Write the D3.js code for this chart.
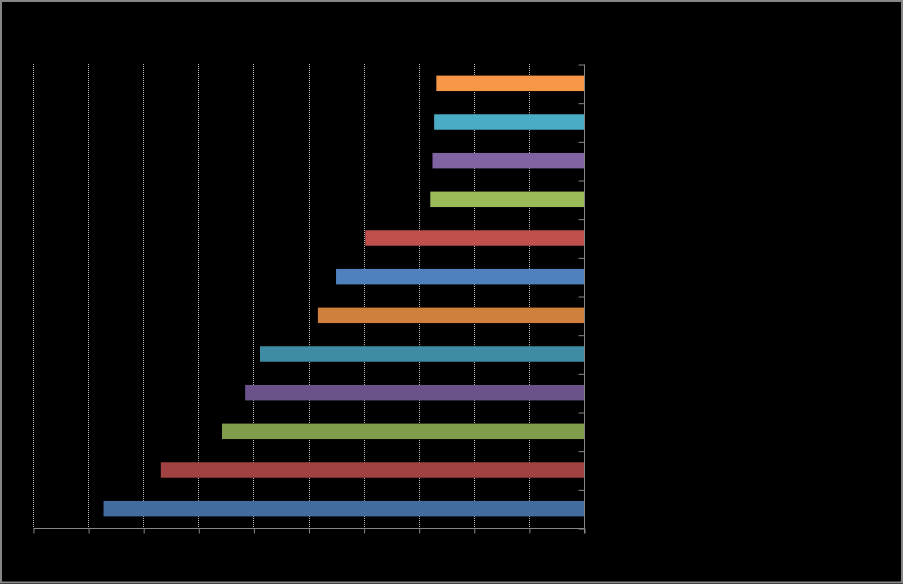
<!DOCTYPE html>
<html>
<head>
<meta charset="utf-8">
<script src="https://cdn.jsdelivr.net/npm/d3@7"></script>
<style>
  html, body { margin: 0; padding: 0; background: #000; }
  svg { display: block; }
</style>
</head>
<body>
<svg id="chart" width="903" height="584"></svg>
<script>
// Categories from top to bottom (labels are not visible in the reference)
const categories = ["C1","C2","C3","C4","C5","C6","C7","C8","C9","C10","C11","C12"];
// Bar lengths, measured from the right-hand axis leftwards
const values = [26.8, 27.2, 27.5, 27.9, 39.7, 45.0, 48.3, 58.8, 61.5, 65.7, 76.8, 87.2];
const colors = ["#F79646","#4BACC6","#8064A2","#9BBB59","#C0504D","#4F81BD",
                "#D07F3C","#3D8CA3","#6A528B","#7F9D4A","#A14242","#426B9E"];
const xTicks = [0,10,20,30,40,50,60,70,80,90,100];

(function () {
const svg = d3.select("#chart");
const W = 903, H = 584;
const pL = 33, pR = 584, pT = 64, pB = 528;

svg.append("rect").attr("x",0).attr("y",0).attr("width",W).attr("height",H).attr("fill","#000");
svg.append("rect").attr("x",1).attr("y",1).attr("width",W-2).attr("height",H-2.5)
   .attr("fill","none").attr("stroke","#868686").attr("stroke-width",2);

const x = d3.scaleLinear().domain([0,100]).range([pR, pL]);
const y = d3.scaleBand().domain(categories).range([pT, pB]).paddingInner(0.6).paddingOuter(0.3);

// dotted vertical gridlines
svg.append("g").selectAll("line").data(xTicks.slice(1)).join("line")
  .attr("x1", d => Math.round(x(d)) + 0.5).attr("x2", d => Math.round(x(d)) + 0.5)
  .attr("y1", pT).attr("y2", pB)
  .attr("stroke","#b4b4b4").attr("stroke-width",1).attr("stroke-dasharray","1,1");

// bars
svg.append("g").selectAll("rect").data(values).join("rect")
  .attr("x", d => x(d)).attr("width", d => pR - x(d))
  .attr("y", (d,i) => y(categories[i])).attr("height", y.bandwidth())
  .attr("fill", (d,i) => colors[i]);

// bottom axis
const xAxis = d3.axisBottom(x).tickValues(xTicks).tickSize(5).tickFormat("");
const gx = svg.append("g").attr("transform", `translate(0.5,${pB + 0.5})`).call(xAxis);
gx.select(".domain").attr("stroke","#868686").attr("d", `M${pL},0H${pR}`);
gx.selectAll(".tick line").attr("stroke","#868686");

// right axis with ticks on band boundaries
const yb = d3.scaleLinear().domain([0, categories.length]).range([pT, pB]);
const yAxis = d3.axisLeft(yb).tickValues(d3.range(0, categories.length + 1)).tickSize(6).tickFormat("");
const gy = svg.append("g").attr("transform", `translate(${pR + 0.5},0.5)`).call(yAxis);
gy.select(".domain").attr("stroke","#868686").attr("d", `M0,${pT}V${pB + 5}`);
gy.selectAll(".tick line").attr("stroke","#868686");
})();
</script>
</body>
</html>
